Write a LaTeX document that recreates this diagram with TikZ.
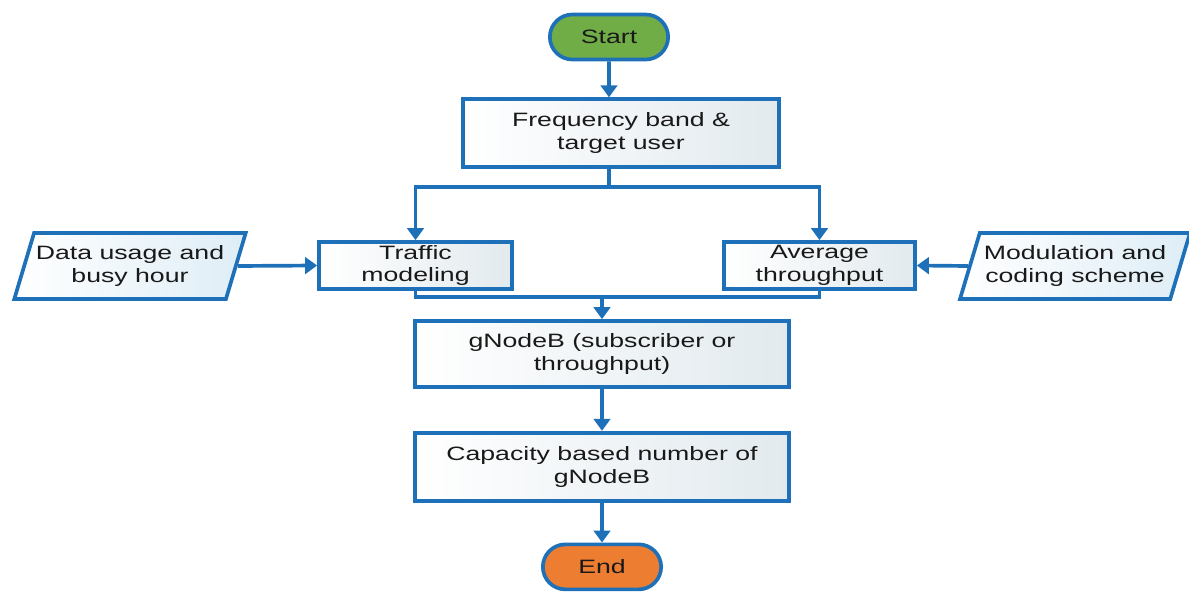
\documentclass[tikz,border=0pt]{standalone}
\usepackage{fontspec}
\newfontfamily\diagfont[FakeStretch=1.38]{Liberation Sans}
\usetikzlibrary{arrows.meta,positioning,shapes.geometric,shapes.misc,calc}
\definecolor{flowblue}{RGB}{30,112,185}
\definecolor{startgreen}{RGB}{112,173,71}
\definecolor{endorange}{RGB}{237,125,49}
\definecolor{boxgray}{RGB}{226,234,238}
\definecolor{parablue}{RGB}{222,237,246}
\definecolor{textdark}{RGB}{25,25,25}
\tikzset{
  box/.style={
    rectangle,
    draw=flowblue,
    line width=2.1pt,
    left color=white,
    right color=boxgray,
    align=center,
    inner sep=1pt,
    text=textdark,
    font=\diagfont\fontsize{11}{13}\selectfont
  },
  term/.style={
    rounded rectangle,
    draw=flowblue,
    line width=2.1pt,
    align=center,
    minimum width=2.6cm,
    minimum height=0.9cm,
    text=textdark,
    font=\diagfont\fontsize{11}{13}\selectfont
  },
  inputbox/.style={
    trapezium,
    trapezium left angle=66,
    trapezium right angle=114,
    trapezium stretches body,
    draw=flowblue,
    line width=2.1pt,
    left color=white,
    right color=parablue,
    align=center,
    inner sep=1pt,
    minimum width=4.6cm,
    minimum height=1.32cm,
    text=textdark,
    font=\diagfont\fontsize{11}{13}\selectfont
  },
  arrow/.style={-{Triangle[length=2.4mm,width=3.3mm]}, line width=2.1pt, draw=flowblue},
  link/.style={line width=2.1pt, draw=flowblue}
}
\begin{document}
\begin{tikzpicture}
        \useasboundingbox (0,0) rectangle (23.78,-11.84);
        \node[term, fill=startgreen] (start) at (12.18,-0.74) {Start};
        \node[box, below=0.72cm of start, xshift=0.24cm, minimum width=6.32cm, minimum height=1.36cm] (freq) {Frequency band \&\\target user};
        \node[box, minimum width=3.86cm, minimum height=0.94cm] (traffic) at (8.31,-5.31) {Traffic\\modeling};
        \node[box, minimum width=3.82cm, minimum height=0.94cm] (average) at (16.39,-5.31) {Average\\throughput};
        \node[inputbox] (usage) at (2.6,-5.32) {Data usage and\\busy hour};
        \node[inputbox] (mcs) at (21.5,-5.32) {Modulation and\\coding scheme};
        \node[box, minimum width=7.48cm, minimum height=1.32cm] (gnb) at (12.04,-7.08) {gNodeB (subscriber or\\throughput)};
        \node[box, below=0.84cm of gnb, minimum width=7.48cm, minimum height=1.36cm] (capacity) {Capacity based number of\\gNodeB};
        \node[term, fill=endorange, below=0.8cm of capacity] (end) {End};

        \coordinate (split) at ($(start.south |- freq.south)+(0,-0.36)$);
        \coordinate (merge) at ($(gnb.north)+(0,0.44)$);

        \draw[arrow] (start) -- (start |- freq.north);
        \draw[link] (start |- freq.south) -- (split);
        \draw[arrow] (split) -| (traffic.north);
        \draw[arrow] (split) -| (average.north);
        \draw[arrow] (usage.east) -- (traffic.west);
        \draw[arrow] (mcs.west) -- (average.east);
        \draw[link] (traffic.south) |- (merge) -| (average.south);
        \draw[arrow] (merge) -- (gnb.north);
        \draw[arrow] (gnb) -- (capacity);
        \draw[arrow] (capacity) -- (end);
      \end{tikzpicture}
\end{document}
